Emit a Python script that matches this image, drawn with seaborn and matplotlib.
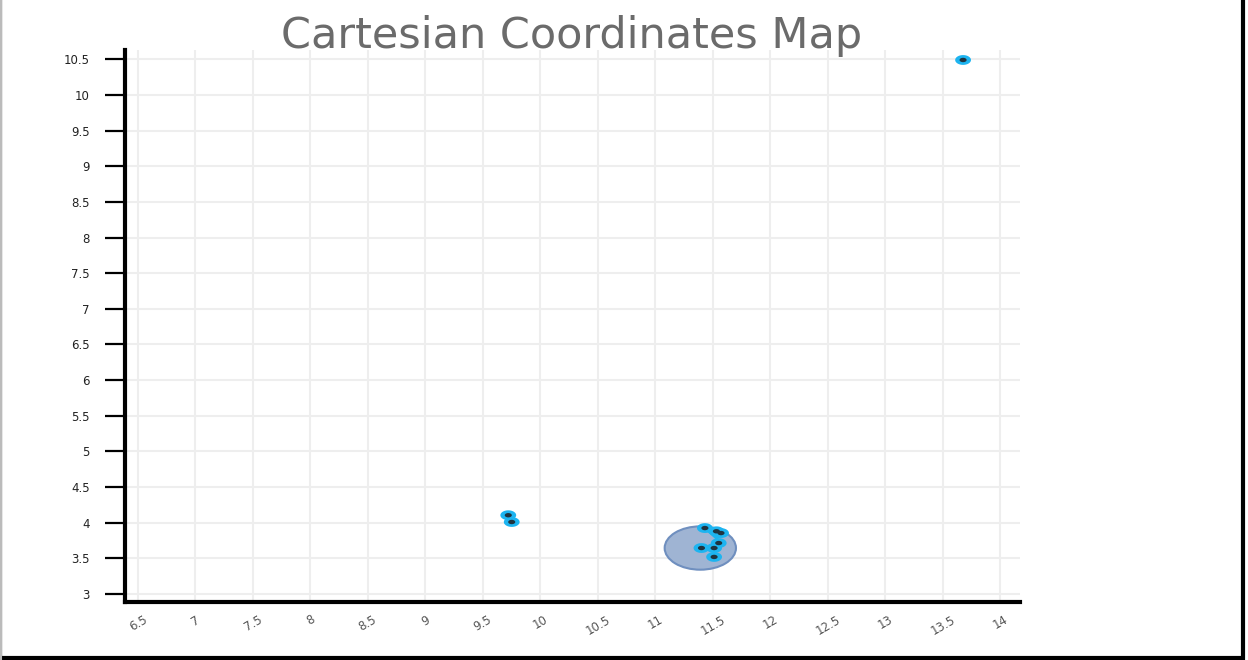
import numpy as np
import pandas as pd
import seaborn as sns
import matplotlib.pyplot as plt
from matplotlib.patches import Ellipse, Rectangle
from matplotlib.path import Path

# point coordinates
xs = [9.72, 9.75, 11.43, 11.53, 11.57, 11.55, 11.40, 11.51, 11.51, 13.675]
ys = [4.105, 4.01, 3.925, 3.88, 3.855, 3.715, 3.645, 3.645, 3.52, 10.49]

# the shaded circle around the lower cluster
circle_center = (11.39, 3.645)
circle_radius = 0.31

# small filled patch joining the top points of the lower cluster
blob_x = [11.43, 11.55, 11.60, 11.53]
blob_y = [3.925, 3.90, 3.85, 3.785]

x_ticks = [6.5, 7, 7.5, 8, 8.5, 9, 9.5, 10, 10.5, 11, 11.5, 12, 12.5, 13, 13.5, 14]
y_ticks = [3, 3.5, 4, 4.5, 5, 5.5, 6, 6.5, 7, 7.5, 8, 8.5, 9, 9.5, 10, 10.5]

df = pd.DataFrame({"x": xs, "y": ys})

sns.set_theme(style="whitegrid")
plt.rcParams['font.family'] = ['DejaVu Sans']

fig = plt.figure(figsize=(12.48, 6.6), dpi=100)
ax = fig.add_axes([125 / 1248, 1 - 602 / 660, 895 / 1248, 552 / 660])

# flattened ellipse marker (the source picture is a bit squashed)
t = np.linspace(0, 2 * np.pi, 40)
flat = Path(np.column_stack([np.cos(t), 0.62 * np.sin(t)]), closed=True)

ax.add_patch(Ellipse(circle_center, 2 * circle_radius, 2 * circle_radius * 0.98,
                     facecolor="#9fb4d3", edgecolor="#6f8fbf", lw=1.5, zorder=2))

ax.fill(blob_x, blob_y, facecolor="#1db4f0", edgecolor="#1db4f0",
        lw=2, joinstyle="round", zorder=3)

sns.scatterplot(data=df, x="x", y="y", ax=ax, marker=flat, s=130,
                color="#1db4f0", edgecolor="none", zorder=4, legend=False)
sns.scatterplot(data=df, x="x", y="y", ax=ax, marker=flat, s=26,
                color="#1f3440", edgecolor="none", zorder=5, legend=False)

ax.set_xlim(6.387, 14.17)
ax.set_ylim(2.888, 10.63)
ax.set_xticks(x_ticks)
ax.set_yticks(y_ticks)
ax.set_xticklabels([f"{v:g}" for v in x_ticks], rotation=30, color="#555555",
                   fontsize=8.5)
ax.set_yticklabels([f"{v:g}" for v in y_ticks], color="#222222", fontsize=8.5)
ax.set_xlabel("")
ax.set_ylabel("")

ax.grid(True, color="#eeeeee", lw=1.5)
ax.tick_params(axis="y", length=14.5, width=1.6, color="black", pad=11, left=True)
ax.tick_params(axis="x", length=0, pad=8)

for side in ["top", "right"]:
    ax.spines[side].set_visible(False)
for side in ["left", "bottom"]:
    ax.spines[side].set_visible(True)
    ax.spines[side].set_color("black")
    ax.spines[side].set_linewidth(3)

fig.text(572 / 1248, 1 - 48 / 660, "Cartesian Coordinates Map", ha="center",
         va="baseline", fontsize=31, color="#6b6b6b")

# frame around the picture
fig.add_artist(Rectangle((0, 1 - 658 / 660), 1243 / 1248, 1.2, transform=fig.transFigure,
                         fill=False, edgecolor="black", lw=3))
fig.add_artist(plt.Line2D([0.0005, 0.0005], [0, 1], transform=fig.transFigure,
                          color="#bbbbbb", lw=1.5))

fig.savefig("out.png", dpi=100)
